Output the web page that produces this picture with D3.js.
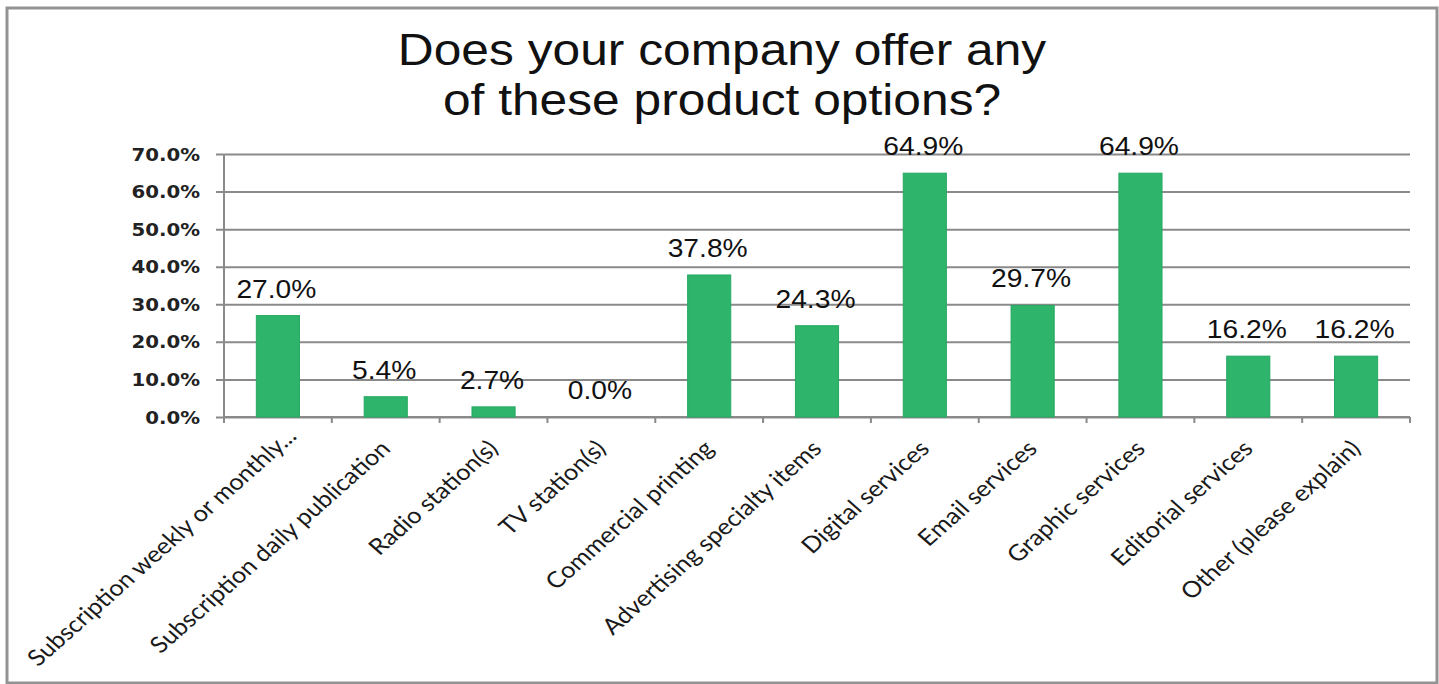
<!DOCTYPE html>
<html>
<head>
<meta charset="utf-8">
<script src="https://cdn.jsdelivr.net/npm/d3@7/dist/d3.min.js"></script>
<style>
  html, body { margin: 0; padding: 0; background: #fff; }
  svg { display: block; }
</style>
</head>
<body>
<svg id="chart" width="1439" height="684"></svg>
<script>
// Survey answers: share of companies offering each product option (%)
const categories = [
  "Subscription weekly or monthly...",
  "Subscription daily publication",
  "Radio station(s)",
  "TV station(s)",
  "Commercial printing",
  "Advertising specialty items",
  "Digital services",
  "Email services",
  "Graphic services",
  "Editorial services",
  "Other (please explain)"
];
const values = [27.0, 5.4, 2.7, 0.0, 37.8, 24.3, 64.9, 29.7, 64.9, 16.2, 16.2];
const yTicks = [0, 10, 20, 30, 40, 50, 60, 70];
const titleLines = ["Does your company offer any", "of these product options?"];

const W = 1439, H = 684;
const plot = { left: 224, right: 1410, top: 154, bottom: 417 };
const stretch = 1.13;          // horizontal text widening used throughout
const gridColor = "#8a8a8a";
const barColor = "#2eb46b";

const svg = d3.select("#chart");

// outer frame
svg.append("rect")
  .attr("x", 7).attr("y", 8)
  .attr("width", W - 9).attr("height", H - 9)
  .attr("fill", "#fff")
  .attr("stroke", "#939393")
  .attr("stroke-width", 3);

const x = d3.scaleBand()
  .domain(categories)
  .range([plot.left, plot.right])
  .paddingInner(0.6)
  .paddingOuter(0.3);

const y = d3.scaleLinear()
  .domain([0, 70])
  .range([plot.bottom, plot.top]);

// title
svg.append("g").selectAll("text")
  .data(titleLines)
  .join("text")
  .attr("transform", (d, i) => `translate(722,${65 + i * 50}) scale(${stretch},1)`)
  .attr("text-anchor", "middle")
  .attr("font-family", "Liberation Sans, Arial, sans-serif")
  .attr("font-size", 44)
  .attr("fill", "#111")
  .text(d => d);

// horizontal gridlines with left ticks
const yAxis = d3.axisLeft(y)
  .tickValues(yTicks)
  .tickSize(-(plot.right - plot.left))
  .tickFormat("");
const gy = svg.append("g")
  .attr("transform", `translate(${plot.left},0)`)
  .call(yAxis);
gy.select(".domain").remove();
gy.selectAll(".tick line")
  .attr("x1", -8)
  .attr("stroke", gridColor)
  .attr("stroke-width", 2);

// vertical value axis
svg.append("line")
  .attr("x1", plot.left).attr("x2", plot.left)
  .attr("y1", plot.top).attr("y2", plot.bottom + 6)
  .attr("stroke", gridColor).attr("stroke-width", 2);

// y tick labels
svg.append("g").selectAll("text")
  .data(yTicks)
  .join("text")
  .attr("transform", d => `translate(200,${y(d) + 6.5}) scale(${stretch},1)`)
  .attr("text-anchor", "end")
  .attr("font-family", "DejaVu Sans, Verdana, sans-serif")
  .attr("font-weight", "bold")
  .attr("font-size", 17.5)
  .attr("fill", "#222")
  .text(d => d.toFixed(1) + "%");

// category axis line with ticks at band boundaries
const bounds = categories.map(c => x(c) - x.step() * x.paddingInner() / 2)
  .concat([plot.right]);
svg.append("line")
  .attr("x1", plot.left).attr("x2", plot.right)
  .attr("y1", plot.bottom).attr("y2", plot.bottom)
  .attr("stroke", gridColor).attr("stroke-width", 2);
svg.append("g").selectAll("line")
  .data(bounds)
  .join("line")
  .attr("x1", d => d).attr("x2", d => d)
  .attr("y1", plot.bottom).attr("y2", plot.bottom + 6)
  .attr("stroke", gridColor).attr("stroke-width", 2);

// bars
svg.append("g").selectAll("rect")
  .data(values)
  .join("rect")
  .attr("x", (d, i) => x(categories[i]))
  .attr("y", d => y(d))
  .attr("width", x.bandwidth())
  .attr("height", d => y(0) - y(d))
  .attr("fill", barColor)
  .attr("stroke", "#27a862")
  .attr("stroke-width", 1);

// value labels
svg.append("g").selectAll("text")
  .data(values)
  .join("text")
  .attr("transform", (d, i) =>
    `translate(${x(categories[i]) + x.bandwidth() / 2 - 1.5},${y(d) - 18}) scale(${stretch},1)`)
  .attr("text-anchor", "middle")
  .attr("font-family", "Liberation Sans, Arial, sans-serif")
  .attr("font-size", 25)
  .attr("fill", "#111")
  .text(d => d.toFixed(1) + "%");

// rotated category labels; a label that would run past the frame
// is slid up along its own direction so it starts inside
const c45 = Math.SQRT1_2;
const minStartX = 38;
svg.append("g").selectAll("text")
  .data(categories)
  .join("text")
  .attr("text-anchor", "end")
  .attr("font-family", "Lato, Open Sans, sans-serif")
  .attr("font-size", 22.5)
  .attr("fill", "#1a1a1a")
  .text(d => d)
  .each(function (d) {
    let ax = x(d) + x.bandwidth() / 2 + 6, ay = 450;
    const len = this.getComputedTextLength();
    const startX = ax - len * c45 * stretch;
    if (startX < minStartX) {
      const t = (minStartX - startX) / (c45 * stretch);
      ax += t * c45 * stretch;
      ay -= t * c45;
    }
    d3.select(this).attr("transform",
      `translate(${ax},${ay}) scale(${stretch},1) rotate(-45)`);
  });
</script>
</body>
</html>
